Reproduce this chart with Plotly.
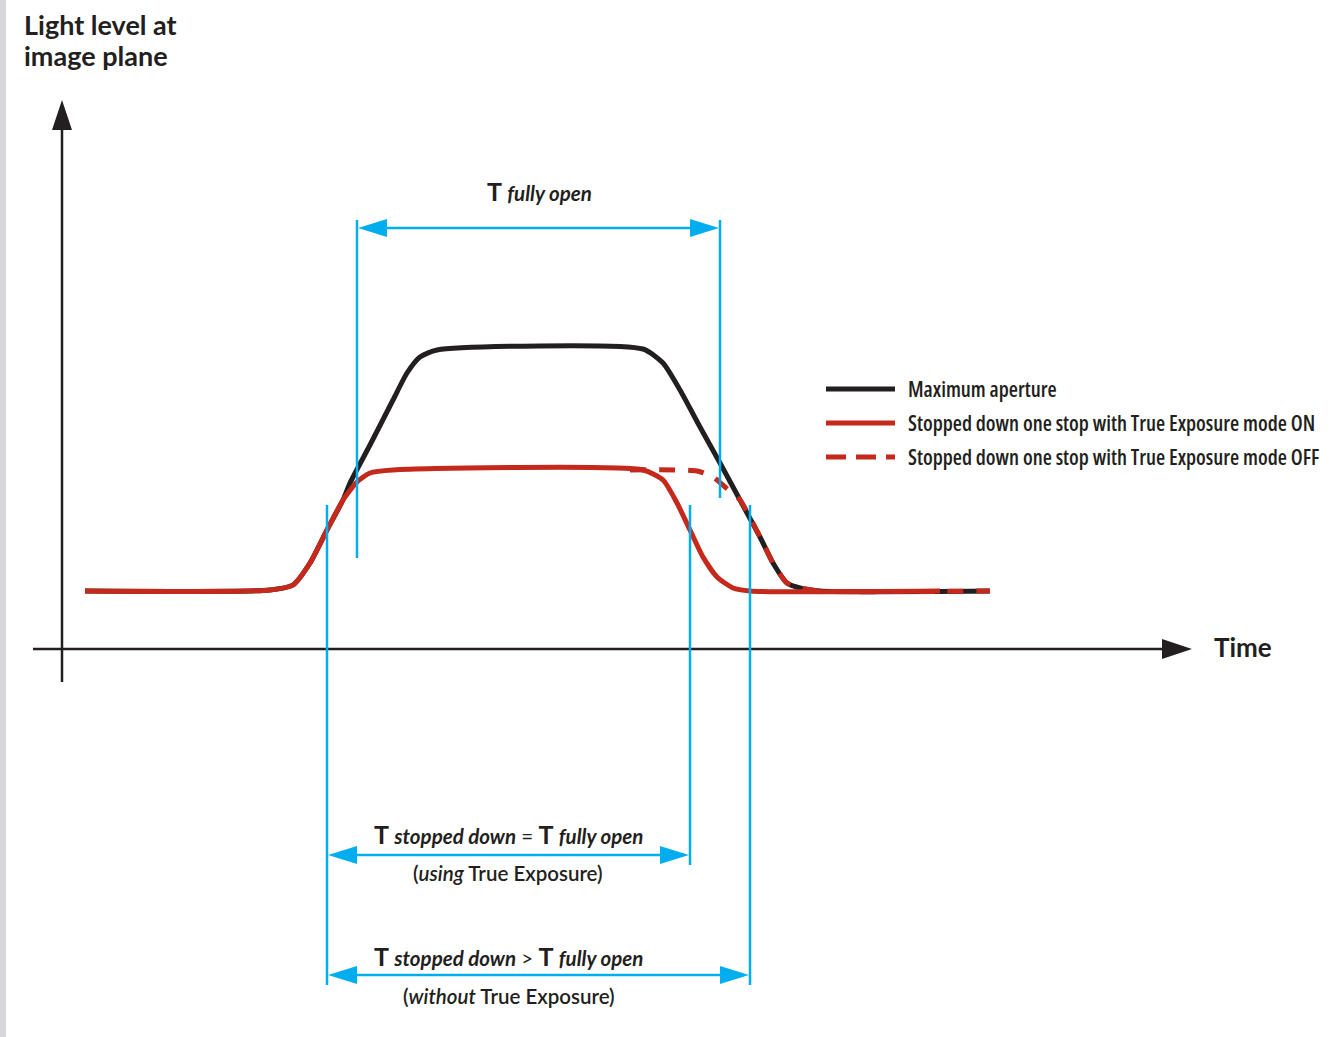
import plotly.graph_objects as go

# ---------------- data (time units / light-level units) ----------------
black_t = [23, 208, 231, 248, 265, 281, 288, 308, 331, 345, 358, 375, 581, 601, 618, 638, 658, 678, 698, 711, 725, 738, 758, 928]
black_l = [58, 59, 64, 86, 119, 149, 166, 204, 249, 276, 292, 299, 300, 286, 259, 222, 186, 149, 112, 86, 66, 61, 58, 58]

red_on_t = [23, 208, 231, 248, 265, 281, 295, 308, 331, 581, 601, 615, 628, 641, 655, 671, 688, 878]
red_on_l = [58, 59, 64, 86, 119, 149, 167, 176, 179, 179, 169, 146, 119, 92, 72, 61, 58, 58]

red_off_t = [568, 635, 651, 663, 678, 698, 711, 725, 738, 758, 928]
red_off_l = [179, 178, 172, 162, 149, 112, 86, 66, 61, 58, 58]

series_names = ["Maximum aperture",
                "Stopped down one stop with True Exposure mode ON",
                "Stopped down one stop with True Exposure mode OFF"]

# timing markers
marker_t = [295, 658, 265, 628, 688]
marker_top = [429, 429, 144, 144, 144]
marker_bottom = [91, 151, -336, -216, -336]

# interval arrows: (start, end, level)
intervals = [(295, 658, 421), (265, 628, -206), (265, 688, -326)]

BLACK = "#231F20"
RED = "#C4291C"
BLUE = "#00AEEF"
FONT = "Lato, 'Open Sans', sans-serif"

fig = go.Figure()
fig.add_trace(go.Scatter(x=black_t, y=black_l, mode="lines", name=series_names[0],
                         line=dict(color=BLACK, width=5, shape="spline", smoothing=0.6)))
fig.add_trace(go.Scatter(x=red_on_t, y=red_on_l, mode="lines", name=series_names[1],
                         line=dict(color=RED, width=5, shape="spline", smoothing=0.6)))
fig.add_trace(go.Scatter(x=red_off_t, y=red_off_l, mode="lines", name=series_names[2],
                         line=dict(color=RED, width=5, shape="spline", smoothing=0.6, dash="16px,13px")))

shapes = []


def tri(tx, ty, dx, dy, length, half, color):
    bx, by = tx - length * dx, ty - length * dy
    px, py = -dy, dx
    p = (f"M {tx},{ty} L {bx + half * px},{by + half * py} "
         f"L {bx - half * px},{by - half * py} Z")
    return dict(type="path", path=p, xref="x", yref="y", fillcolor=color,
                line=dict(width=0), layer="above")


# gray bar on the left
shapes.append(dict(type="rect", xref="paper", yref="paper", x0=0, x1=6 / 1335, y0=0, y1=1,
                   fillcolor="#D7D7D9", line=dict(width=0)))

# axes
shapes.append(dict(type="line", xref="x", yref="y", x0=0, x1=0, y0=-33, y1=525,
                   line=dict(color=BLACK, width=2.5)))
shapes.append(tri(0, 549, 0, 1, 30, 10, BLACK))
shapes.append(dict(type="line", xref="x", yref="y", x0=-29, x1=1105, y0=0, y1=0,
                   line=dict(color=BLACK, width=2.5)))
shapes.append(tri(1130, 0, 1, 0, 30, 10, BLACK))

# timing markers
for t, top, bot in zip(marker_t, marker_top, marker_bottom):
    shapes.append(dict(type="line", xref="x", yref="y", x0=t, x1=t, y0=bot, y1=top,
                       line=dict(color=BLUE, width=2.5)))

# interval arrows
for a, b, lvl in intervals:
    shapes.append(dict(type="line", xref="x", yref="y", x0=a + 10, x1=b - 10, y0=lvl, y1=lvl,
                       line=dict(color=BLUE, width=2.5)))
    shapes.append(tri(a + 1, lvl, -1, 0, 29, 9, BLUE))
    shapes.append(tri(b - 1, lvl, 1, 0, 29, 9, BLUE))

# legend samples
leg_y = [260, 226, 192]
shapes.append(dict(type="line", xref="x", yref="y", x0=764, x1=833, y0=leg_y[0], y1=leg_y[0],
                   line=dict(color=BLACK, width=5)))
shapes.append(dict(type="line", xref="x", yref="y", x0=764, x1=833, y0=leg_y[1], y1=leg_y[1],
                   line=dict(color=RED, width=5)))
shapes.append(dict(type="line", xref="x", yref="y", x0=764, x1=833, y0=leg_y[2], y1=leg_y[2],
                   line=dict(color=RED, width=5, dash="20px,10px")))

annotations = []
for name, ly in zip(series_names, leg_y):
    annotations.append(dict(x=844, y=ly, xref="x", yref="y",
                            text=f"<span style='font-stretch:75%'>{name}</span>", showarrow=False,
                            xanchor="left", yanchor="middle",
                            font=dict(family="'Open Sans'", size=21, color=BLACK, weight=600)))

T = "<b><span style='font-size:25px'>T</span></b>"
annotations += [
    dict(x=-40, y=625, xref="x", yref="y", text="<b>Light level at</b>",
         showarrow=False, xanchor="left", yanchor="middle",
         font=dict(family=FONT, size=27, color=BLACK)),
    dict(x=-40, y=594, xref="x", yref="y", text="<b>image plane</b>",
         showarrow=False, xanchor="left", yanchor="middle",
         font=dict(family=FONT, size=27, color=BLACK)),
    dict(x=1150, y=2, xref="x", yref="y", text="<b>Time</b>", showarrow=False,
         xanchor="left", yanchor="middle", font=dict(family=FONT, size=26, color=BLACK)),
    dict(x=477, y=458, xref="x", yref="y",
         text=f"{T} <b><i>fully open</i></b>",
         showarrow=False, xanchor="center", yanchor="middle",
         font=dict(family=FONT, size=20.5, color=BLACK)),
    dict(x=446, y=-185, xref="x", yref="y",
         text=f"{T} <b><i>stopped down</i></b> = {T} <b><i>fully open</i></b>",
         showarrow=False, xanchor="center", yanchor="middle",
         font=dict(family=FONT, size=20.5, color=BLACK)),
    dict(x=446, y=-224, xref="x", yref="y",
         text="(<i>using</i> True Exposure)",
         showarrow=False, xanchor="center", yanchor="middle",
         font=dict(family=FONT, size=20.5, color=BLACK, weight=600)),
    dict(x=446, y=-307, xref="x", yref="y",
         text=f"{T} <b><i>stopped down</i></b> &gt; {T} <b><i>fully open</i></b>",
         showarrow=False, xanchor="center", yanchor="middle",
         font=dict(family=FONT, size=20.5, color=BLACK)),
    dict(x=447, y=-347, xref="x", yref="y",
         text="(<i>without</i> True Exposure)",
         showarrow=False, xanchor="center", yanchor="middle",
         font=dict(family=FONT, size=20.5, color=BLACK, weight=600)),
]

fig.update_layout(
    width=1335, height=1037,
    margin=dict(l=0, r=0, t=0, b=0),
    paper_bgcolor="white", plot_bgcolor="white",
    showlegend=False,
    xaxis=dict(range=[-62, 1273], visible=False, fixedrange=True),
    yaxis=dict(range=[-388, 649], visible=False, fixedrange=True),
    shapes=shapes, annotations=annotations,
)

fig.write_html("out.html", config={"displayModeBar": False},
               post_script="document.body.style.margin='0';")
